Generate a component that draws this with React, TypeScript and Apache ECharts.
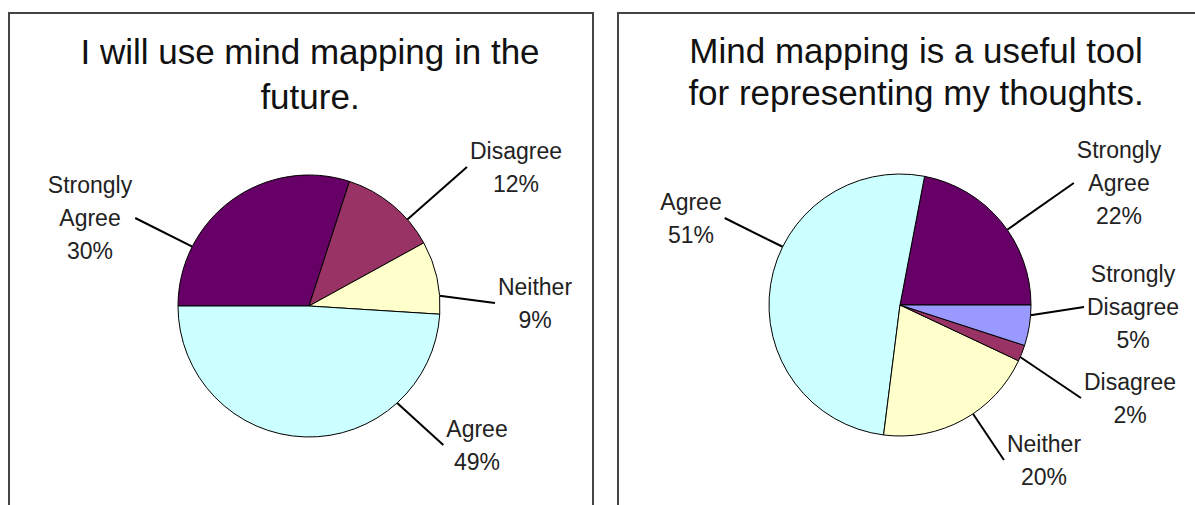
import React, { useEffect, useRef } from "react";
import * as echarts from "echarts";

// ---- Data ----
const leftTitle = "I will use mind mapping in the\nfuture.";
const leftCategories = ["Strongly Agree", "Disagree", "Neither", "Agree"];
const leftValues = [30, 12, 9, 49];

const rightTitle = "Mind mapping is a useful tool\nfor representing my thoughts.";
const rightCategories = ["Strongly Agree", "Agree", "Neither", "Disagree", "Strongly Disagree"];
const rightValues = [22, 51, 20, 2, 5];

// ---- Styles / layout ----
const colorOf: Record<string, string> = {
  "Strongly Agree": "#660066",
  Disagree: "#993366",
  Neither: "#FFFFCC",
  Agree: "#CCFFFF",
  "Strongly Disagree": "#9999FF",
};
const FONT = "'Liberation Sans', Arial, Helvetica, sans-serif";
const RADIUS = 131;
const leftLabelPos = [[90, 218], [516, 167], [535, 303], [477, 445]];
const rightLabelPos = [[1119, 183], [691, 218], [1044, 460], [1130, 398], [1133, 307]];

function buildSeries(cats: string[], vals: number[], center: number[], startAngle: number, clockwise: boolean, pos: number[][]) {
  const total = vals.reduce((a, b) => a + b, 0);
  // slice angle ranges (math degrees, y up)
  const ranges: number[][] = [];
  let cum = 0;
  vals.forEach((v) => {
    const span = (v / total) * 360;
    const a0 = clockwise ? startAngle - cum : startAngle + cum;
    const a1 = clockwise ? a0 - span : a0 + span;
    ranges.push([a0, a1]);
    cum += span;
  });
  const [cx, cy] = center;
  return {
    type: "pie",
    center,
    radius: RADIUS,
    startAngle,
    clockwise,
    avoidLabelOverlap: false,
    data: cats.map((c, i) => ({ name: c, value: vals[i], itemStyle: { color: colorOf[c] } })),
    itemStyle: { borderColor: "#000", borderWidth: 1 },
    label: {
      show: true,
      position: "outside",
      formatter: (p: any) => p.name.replace(" ", "\n") + "\n" + p.value + "%",
      fontFamily: FONT,
      fontSize: 23,
      lineHeight: 33,
      color: "#222",
      align: "center",
    },
    labelLine: { show: true, length: 10, length2: 0, smooth: false, lineStyle: { color: "#000", width: 2 } },
    labelLayout: (params: any) => {
      const i = params.dataIndex;
      const p = pos[i];
      const w = params.labelRect.width;
      const h = params.labelRect.height;
      const gap = 3;
      const anchors = [
        [p[0] - w / 2 - gap, p[1]],
        [p[0] + w / 2 + gap, p[1]],
        [p[0], p[1] - h / 2 - gap],
        [p[0], p[1] + h / 2 + gap],
      ];
      const [a0, a1] = ranges[i];
      const mid = (a0 + a1) / 2;
      const half = Math.abs(a1 - a0) / 4;
      let best: any = null;
      anchors.forEach((P) => {
        const th = (Math.atan2(-(P[1] - cy), P[0] - cx) * 180) / Math.PI;
        let d = th - mid;
        while (d > 180) d -= 360;
        while (d <= -180) d += 360;
        d = Math.max(-half, Math.min(half, d));
        const ang = ((mid + d) * Math.PI) / 180;
        const Q = [cx + RADIUS * Math.cos(ang), cy - RADIUS * Math.sin(ang)];
        const dist = Math.hypot(P[0] - Q[0], P[1] - Q[1]);
        if (!best || dist < best.dist) best = { dist, P, Q };
      });
      return {
        x: p[0],
        y: p[1],
        align: "center",
        verticalAlign: "middle",
        labelLinePoints: [best.Q, best.P, best.P],
      };
    },
    emphasis: { disabled: true },
  };
}

export default function App() {
  const ref = useRef<HTMLDivElement>(null);
  useEffect(() => {
    if (!ref.current) return;
    const chart = echarts.init(ref.current, undefined, { renderer: "svg" });
    chart.setOption({
      animation: false,
      backgroundColor: "#fff",
      graphic: [
        { type: "rect", shape: { x: 9, y: 13, width: 584, height: 600 }, style: { fill: "none", stroke: "#444", lineWidth: 2 }, z: -1 },
        { type: "rect", shape: { x: 618, y: 13, width: 700, height: 600 }, style: { fill: "none", stroke: "#444", lineWidth: 2 }, z: -1 },
        {
          type: "text", x: 310, y: 74,
          style: { text: leftTitle, textAlign: "center", textVerticalAlign: "middle", fontSize: 35, lineHeight: 45, fontFamily: FONT, fill: "#111" },
        },
        {
          type: "text", x: 916, y: 71,
          style: { text: rightTitle, textAlign: "center", textVerticalAlign: "middle", fontSize: 35, lineHeight: 42, fontFamily: FONT, fill: "#111" },
        },
      ],
      series: [
        buildSeries(leftCategories, leftValues, [309, 306], 180, true, leftLabelPos),
        buildSeries(rightCategories, rightValues, [900, 305], 0, false, rightLabelPos),
      ],
    });
    return () => chart.dispose();
  }, []);
  return <div ref={ref} style={{ position: "absolute", left: 0, top: 0, width: 1195, height: 505 }} />;
}
